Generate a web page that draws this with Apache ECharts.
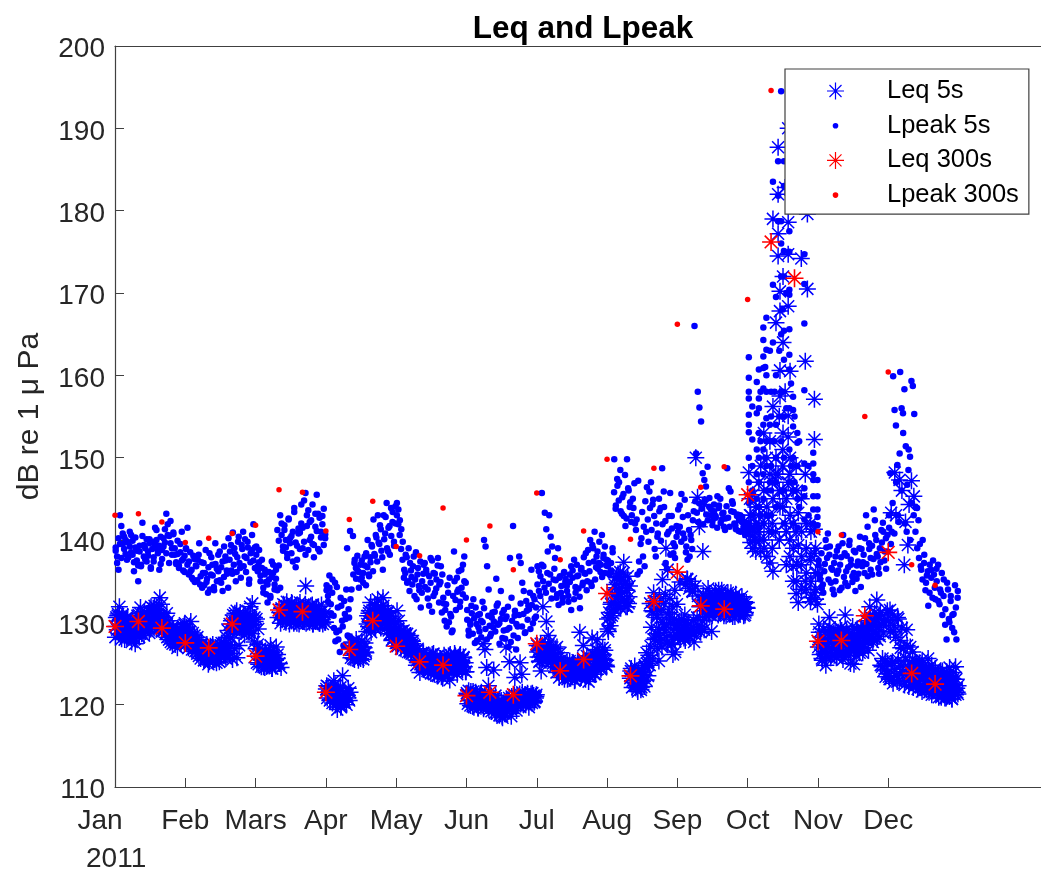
<!DOCTYPE html>
<html><head><meta charset="utf-8">
<style>html,body{margin:0;padding:0;background:#fff;overflow:hidden}#c{width:1041px;height:872px;filter:blur(0.4px)}</style>
<script src="https://cdn.jsdelivr.net/npm/echarts@6/dist/echarts.min.js"></script>
</head><body><div id="c"></div>
<script>
const monthLabels=['Jan','Feb','Mars','Apr','May','Jun','Jul','Aug','Sep','Oct','Nov','Dec'];
const monthStarts=[0,30,60,90,120,150,180,210,240,270,300,330];
const monthLen=30;
const yTicks={min:110,max:200,interval:10};
const xMax=395.2;

// Leq 5s, read month by month
const leqJan=[129.5,130.8,131.9,128.6,129.2,127.9,130.5,128.4,128.9,127.6,128.2,127.4,129.8,130.9,131.8,129.3,128.4,129.9,130.6,128.7,131.9,130.3,132.0,129.2,131.4,133.0,132.2,130.4,129.1,131.1,130.2,128.6,129.4,127.8,128.7,126.9,128.3,127.4,128.9,129.7];
const leqFeb=[129.4,128.6,130.1,127.8,126.9,128.2,127.2,126.4,125.4,127.1,124.9,126.1,127.3,125.8,126.6,125.2,127.5,126.3,125.6,127.0,126.2,125.5,126.8,125.7,127.2,129.2,131.0,130.2,129.5,131.9,132.3,130.6];
const leqMar=[130.4,129.2,126.8,125.4,124.6,126.2,124.8,125.7,127.2,124.4,125.9,124.7,126.1,125.0,124.5,131.2,132.1,130.4,131.6,130.2,132.4,130.8,131.5,129.9,132.0,130.6,131.3,130.1,134.4,131.7,130.5,132.0,129.8,131.4,130.3,131.0,129.9,132.1,130.7,130.0];
const leqApr=[122.3,121.2,120.6,121.8,122.9,120.2,119.4,120.9,119.7,123.5,120.4,121.2,120.8,126.8,127.5,125.6,126.2,127.1,125.4,126.5,127.7,125.9,126.4,129.8,131.1,132.4,130.2,129.4,131.6,132.8,130.5,131.9,133.0,130.9,129.7,131.2,128.6,127.8,129.0,130.1];
const leqMay=[131.4,130.2,128.9,127.8,128.6,126.7,127.9,128.2,126.5,127.4,126.0,124.8,125.9,123.9,125.2,126.3,124.5,125.6,124.0,125.3,126.1,124.7,125.8,123.6,124.9,125.5,123.2,124.6,125.7,124.2,123.0,124.9,125.4,126.0,124.3,125.2,126.1,124.5,125.7,124.0];
const leqJun=[121.2,120.5,121.6,119.8,120.9,121.3,119.6,120.3,121.5,127.4,126.7,124.5,122.3,120.8,119.9,124.2,121.1,119.4,120.2,118.9,118.4,119.1,127.0,120.0,125.2,118.6,120.6,123.3,119.3,121.0,125.1,123.7,120.1,121.2,120.5,119.7,120.8,121.4,120.3,121.0];
const leqJul=[126.4,125.2,124.1,131.9,127.3,130.1,128.4,127.6,126.2,125.4,126.8,127.0,125.7,126.3,124.6,123.6,124.9,123.1,124.2,123.4,124.7,122.9,123.8,125.1,128.8,124.0,127.2,123.5,125.9,122.8,124.5,128.1,125.6,123.7,127.9,126.4,124.3,126.9,125.5,124.8];
const leqAug=[129.2,130.6,132.4,131.1,134.2,135.6,133.5,136.1,132.8,137.3,134.7,131.9,133.1,124.1,122.9,123.7,122.4,121.6,123.2,122.1,123.9,124.8,126.3,125.2,132.3,131.4,133.6,128.1,130.9,125.3,127.8,135.2,129.4,139.0,136.4,131.2,127.5,126.1,133.9,129.7];
const leqSep=[129.6,134.9,128.6,130.2,127.8,135.3,128.4,129.1,133.8,127.6,150.0,145.2,141.6,129.3,138.6,144.3,132.4,134.1,130.9,128.9,131.8,133.3,132.6,133.9,131.3,132.9,130.8,131.7,133.0,131.2,133.6,130.7,132.1,131.5,132.8,131.0,132.3,131.6,130.9,131.8];
const leqNov=[129.8,127.3,125.4,126.9,124.8,127.9,130.6,128.4,126.2,127.5,125.7,128.8,126.6,129.0,127.2,130.9,128.1,126.4,125.0,127.6,124.9,126.8,128.3,127.1,129.3,126.3,128.6,130.2,127.7,131.9,129.1,128.0,130.4,132.7,129.6,131.2,124.6,130.0,123.4,131.4];
const leqDec=[123.4,131.5,143.3,125.2,128.9,148.2,143,122.8,130.4,147.3,126.9,146,124,137,142.2,129.1,139.4,144.3,127,147.2,126.4,145.3,123.2,125.1,122.4,124.6,123.9,122.1,125.4,123.3,121.8,124.2,122.6,125.6,123.5,122.2,124.8,123.0,121.7,124.4,122.6,121.4,123.7,122.0,120.9,124.1,121.6,122.9,120.8,123.4,121.2,124.5,122.3,120.7,123.1,121.5,124.6,122.0,121.3];
// second reading of the dense Leq 5s clusters
const leqJanB=[128.2,130.6,129.1,131.0,128.6,130.2,129.5,128.0,130.9,129.2,128.4,130.4,129.8,128.1,130.7,129.0,128.5,129.9,128.3,130.1,128.7,129.6,128.0,130.3,128.8,130.8,129.3,128.2,131.1,129.7,128.6,130.5,129.1,131.2,128.9,130.6,129.4,131.0,129.8,131.4,129.6,131.3,130.0,131.7,129.3,130.9,129.9,131.5,130.4,129.2,131.2,129.7,130.7,128.9,130.2,129.1,130.6,128.6,129.8,128.2,129.4,127.9,129.0,127.6,128.7,127.4,129.2,128.1,127.3,128.9,127.7,129.3,128.2,127.5,129.0,128.4,127.8,129.5,128.6,129.9];
const leqFebB=[129.1,127.4,128.6,126.9,128.9,127.3,128.2,126.7,128.7,127.1,128.4,126.5,127.9,126.2,127.6,125.9,127.2,125.6,127.4,126.0,127.0,125.4,126.7,125.8,127.3,125.5,126.4,125.2,127.1,125.9,126.6,125.3,126.9,125.6,126.2,125.1,126.8,125.7,127.0,126.0,127.2,125.8,126.5,126.9,127.4,125.9,128.2,126.6,129.0,127.3,129.8,128.1,130.2,128.7,130.9,129.2,131.1,129.5,131.4,129.9,130.6,129.3,131.2,128.9,130.4,129.1,131.0,128.5,130.7,129.4,130.0,128.8,130.5,129.0,130.9,128.6,130.3,129.7,127.6,130.1];
const leqMarB=[126.8,125.1,127.3,124.9,126.2,125.5,124.6,126.6,125.0,126.0,124.5,126.3,125.2,124.8,125.9,124.7,126.5,125.3,124.4,125.7,126.1,124.9,125.4,127.0,125.6,130.6,125.0,131.2,129.9,131.7,130.3,132.2,130.8,131.4,130.0,132.5,130.6,131.9,129.8,131.2,130.4,132.3,130.9,129.9,131.6,130.2,132.0,130.7,131.3,129.8,132.4,130.5,131.1,130.1,131.8,130.3,132.2,129.9,131.5,130.6,131.9,130.0,131.2,130.4,132.1,129.8,131.4,130.7,130.1,131.6,130.3,131.9,129.9,130.8,130.2,131.3,129.8,130.6,131.0,130.0];
const leqAprB=[121.9,120.8,122.2,121.2,120.5,122.0,121.5,120.2,121.8,120.9,122.4,120.6,121.3,120.1,121.7,120.4,122.1,119.9,121.0,120.7,121.6,120.3,121.4,120.0,121.1,122.0,120.5,121.5,125.7,127.6,126.0,127.2,125.5,126.7,127.9,126.2,125.8,127.4,126.5,125.6,127.0,126.1,125.5,126.9,127.5,126.3,128.9,130.8,129.5,131.4,130.0,128.8,131.2,129.6,130.6,132.1,129.2,131.0,130.2,131.7,129.7,130.9,129.3,131.5,130.4,132.0,129.9,131.1,130.5,129.4,131.3,129.0,130.7,128.6,130.1,127.9,129.3,128.2,129.8,127.5];
const leqMayB=[128.8,127.1,129.2,127.6,128.3,126.8,128.9,127.3,129.0,126.6,128.1,127.5,128.6,126.4,127.9,126.9,128.4,126.2,127.7,126.7,127.2,125.8,126.5,125.4,126.8,125.1,126.1,124.9,125.7,124.6,126.3,124.3,125.5,124.8,126.0,124.1,125.2,124.5,125.9,123.8,125.0,124.4,126.2,123.7,125.4,124.2,125.8,123.5,124.9,124.0,125.6,123.4,125.1,124.6,126.0,123.8,124.7,125.3,123.6,125.9,124.3,126.1,124.8,123.9,125.5,124.1,126.2,124.9,125.2,123.7,125.7,124.4,126.0,124.7,125.4,124.2,125.8,124.6,125.1,124.0];
const leqJunB=[121.4,120.1,121.7,120.5,119.9,121.2,120.3,121.6,119.7,120.9,121.5,120.0,121.1,119.6,120.7,121.3,119.8,120.4,121.0,119.5,120.8,121.2,119.9,120.2,120.9,119.4,120.6,121.1,119.2,120.3,119.7,120.7,119.0,120.1,118.9,119.6,120.4,118.7,119.8,120.5,118.6,119.3,120.2,118.9,119.9,120.6,119.2,120.0,120.8,119.5,120.3,121.0,119.6,120.7,121.2,119.8,120.4,121.1,119.9,120.6,121.3,120.1,120.8,121.5,120.2,120.9,121.2,120.0,120.7,121.4,120.3,121.0,120.5,121.3,120.2,120.9,121.1,120.4,120.8,121.2];
const leqJulB=[127.2,125.8,126.6,125.3,127.4,126.1,125.5,126.9,125.9,127.0,125.4,126.4,125.7,127.3,126.2,125.2,126.7,125.6,125.0,126.3,124.6,125.8,123.9,125.1,124.4,123.3,124.9,125.4,123.6,124.2,125.0,123.1,124.7,123.8,125.2,123.4,124.0,125.3,123.2,124.5,123.7,125.1,124.1,123.0,124.8,123.5,125.4,123.9,124.3,125.0,123.3,124.6,123.8,125.5,124.2,123.1,124.9,123.6,125.2,124.4,123.4,125.6,124.0,126.2,124.7,123.7,125.3,126.7,124.3,125.9,124.8,126.4,125.1,124.5,126.1,125.6,124.9,126.6,125.4,124.6];
const leqAugB=[130.4,128.9,131.2,129.6,132.2,130.8,133.4,131.6,134.6,132.4,135.4,133.1,135.9,132.0,134.2,131.7,135.1,133.6,136.0,132.7,134.9,131.9,133.9,135.6,132.3,134.4,123.2,124.4,122.1,123.8,122.7,124.7,122.3,123.4,121.9,124.0,122.6,123.1,121.8,124.2,122.8,123.6,122.2,124.5,123.0,125.0,123.5,126.0,124.8,127.1,129.4,125.6,131.3,127.9,132.6,128.6,130.6,126.8,129.1,133.1,128.2,131.6,127.0,130.0,132.3,128.8,133.4,129.7,127.5,131.0,128.4,132.9,129.9,127.3,131.9,128.3,130.4,126.4,129.2,132.2];
const leqSepB=[128.4,130.0,129.2,127.9,130.4,128.7,129.6,128.1,130.9,134.6,128.9,135.2,129.8,134.1,128.3,135.0,129.4,133.7,130.3,128.6,134.4,129.0,130.6,133.2,129.5,131.9,128.8,132.7,130.2,133.3,129.1,131.4,133.0,130.7,132.2,131.0,133.5,131.6,132.5,130.8,133.1,131.3,132.0,133.8,131.5,132.8,130.9,133.4,131.2,132.4,133.9,131.7,132.6,131.1,133.2,130.8,132.1,133.6,131.4,132.9,131.0,132.3,133.0,131.6,132.7,130.7,133.4,131.9,132.2,130.9,132.8,131.3,132.0,133.1,131.5,130.8,132.5,131.2,132.4,131.7];
const leqNovB=[127.0,128.8,126.1,128.2,125.6,127.6,129.2,126.5,128.0,125.9,127.3,128.9,126.3,129.4,125.7,127.9,126.8,128.5,126.0,129.0,127.4,125.8,128.3,126.6,127.8,129.3,126.2,128.7,125.5,127.2,128.1,126.4,129.1,127.5,125.9,128.6,126.7,128.0,127.1,129.5,126.5,128.4,127.7,126.0,129.2,127.0,128.8,126.3,127.5,129.0,126.9,128.2,127.3,129.6,127.8,130.2,128.5,126.6,129.3,130.7,128.1,130.0,127.6,129.7,131.1,128.9,130.4,127.9,129.4,130.9,128.3,124.8,129.8,125.6,128.7,124.2,125.3,130.3,123.8,125.0];
const leqDecB=[130.2,123.1,128.9,125.0,131.0,122.6,129.6,124.3,128.2,123.5,130.6,125.4,122.9,127.8,124.7,129.3,123.8,126.8,122.4,125.7,123.0,127.2,124.5,122.2,125.2,123.6,122.7,124.9,122.1,123.3,125.3,122.5,124.1,121.9,123.7,125.1,122.3,124.0,121.6,123.2,124.7,122.0,123.9,121.8,122.8,124.4,121.5,123.4,122.1,121.2,123.6,121.7,122.6,124.2,121.4,123.0,121.9,120.9,122.4,123.8,121.1,122.7,121.6,123.3,120.8,122.2,124.0,121.3,122.9,121.0,123.5,122.1,120.7,121.8,123.9,122.5,121.2,123.1,121.5,122.3];
// October is dense and uneven: [days after Oct 1, values at that time]
const leqOct=[[0.5,[148.2,142,141]],[1.3,[139.7,141.5,143]],[2.2,[140.5,139,145.5]],[3.5,[142,144,138.6]],[4.8,[147,141,143]],[5.6,[138.6,149]],[6.9,[153,146,140]],[8.2,[150,144,138]],[9.5,[148,137.2,152]],[10.8,[136.2,156.2,179,145]],[12.1,[166.4,150]],[13,[187.7,182,174.5,177.2,148]],[13.8,[167.8,170.2,160.6,157.5,144]],[15.1,[164,172,153,146]],[16,[182.8,158,142]],[17.3,[168.4,174.7,178.6,190,152.5,155.1,147]],[18.1,[160.5,150,143]],[19.4,[136.8,146]],[20.7,[149,133.5,141]],[21.6,[143.3,139.4,132.4]],[22.9,[145,174.2,137]],[24.6,[161.7,148,135]],[25.5,[170.5,179.6]],[26.8,[142,137.5,132.5]],[28.5,[157.1,152.2,141.3,138.4,133.6]],[29.8,[136,132.2]]];
const leqOctB=[[1,[145,143]],[3,[140,141]],[5,[144,140]],[7,[142,139]],[9,[141,143]],[10.5,[147,139,142]],[12,[148,141]],[13.5,[146,155,140]],[15,[151,144,149]],[16.5,[145,141,137]],[18,[148,140,138]],[19.5,[142,139,135]],[21,[137,135,146]],[23,[141,138,134]],[25,[139,136,134,142]],[27,[141,138,135,133]],[29,[134,136,139,132.8]]];

// Lpeak 5s
const peakJan=[138.7,137.2,136.4,143,141.7,139.5,140.4,138.3,139.8,137.9,139.2,140.6,138.2,136.2,139.1,137.5,135.0,138.6,136.8,142.1,139.4,137.6,140.1,138.1,139.6,136.5,138.9,137.4,141.5,140.0,138.4,139.3,137.1,138.8,140.2,139.7,143.2,141.9,140.5,142.3,139.0,140.7,138.2,137.3,139.9,136.9,138.5,141.0,137.7,136.1];
const peakFeb=[138.9,141.5,137.4,136.2,135.4,138.1,134.9,136.8,137.6,139.6,135.6,134.2,137.2,136.0,134.9,133.6,138.4,135.8,137.0,134.3,139.6,136.5,138.2,135.1,136.7,133.8,139.2,137.5,135.9,140.2,138.6,136.3,140.9,139.0,135.0,137.9,140.4,136.6,139.4,141.0,138.0,136.1,139.8,134.7,137.3,138.8,141.9,139.1];
const peakMar=[139.2,136.8,138.8,135.7,137.6,133.6,136.4,134.9,132.4,135.2,133.2,137.4,136.0,134.6,135.3,133.9,136.9,134.2,142.0,139.2,141.2,140.0,138.3,142.5,139.6,140.5,137.4,143.9,136.7,139.3,140.8,138.9,144.3,141.5,139.8,145.7,143.0,138.8,142.2,140.4,144.3,139.4,141.6,145.5,143.2,138.6,141.0,142.9,139.4,140.2];
const peakApr=[133.9,132.5,134.2,131.1,135.2,129.3,127.7,134.3,127.9,126.4,132,129.5,132.6,130.4,139,131.6,141.1,134.0,140.5,137.2,136.6,138.1,136.1,135.2,137.5,134.8,136.9,138.4,140.0,135.6,137.3,139.2,142.5,138.1,140.3,143,139.5,141.3,137.9,143,140.8,144.5,138.6,141.7,143.9,142.2,139.8,144.1];
const peakMay=[144.5,143.7,142.4,141.3,139.8,136.4,138.2,134.8,139,137.2,135.5,136.8,133.2,138.5,135.8,134.4,137.4,133.6,135.9,137.2,136.4,134,132,137.8,131.3,136,133.6,135.2,137.8,134.6,136.8,135.8,132.3,131.5,129.5,133.6,135.4,130.7,129,138.6,132.7,135.4,134,131.9,136.4,133.4,138,134.8];
const peakJun=[130.3,128.4,129.7,131.1,132.8,127.5,129.8,130.9,128.9,130.2,132.5,140,139.2,136.8,134,128.3,130.6,129.4,131.3,135.3,132.3,129.9,133.8,128.1,131.5,130.4,129.1,127,137.8,133,141.7,130.8,126.7,129.5,138,137.2,134.8,133.8,128.8,131.4,132,133.6,136.4,129.9,132.8,130.7];
const peakJul=[136.8,133.8,135.6,145.7,136.8,143.3,141.3,138.6,143,140.4,139.2,135.2,137.8,133,139,135.4,133.6,132.4,136,134.9,134.4,133.2,135.8,131.5,136.3,137.6,133.6,135.6,134.1,131.7,136.6,134.8,136,138.4,135,137.2,140,134.4,139,141,136.7,138.6,137.2,136.1,140.6,137.8,139.2,136.9];
const peakAug=[136.8,136,137.2,138.5,149.8,144.2,146.6,147,143.5,145.2,142.9,141.7,149.8,146,144.6,143,143.9,142,142.5,147.2,136.2,140.2,138,136.8,141,142.5,145.9,147,144.3,142.9,138,140.4,145,143.9,148.7,145.9,142.3,136.5,141,145.7,142.9,138.4,139.2,141.7];
const peakSep=[143.7,141.6,145.6,140.8,144.9,139.2,143,138,140,142.4,166,150.5,158,156.1,154.4,148.1,147.3,146.5,148.9,144,143,142.3,143.5,142.7,145.3,144.2,142.1,143.2,141.6,142.6,148.7,146.3,145.9,144.7,143.4,141.8,142.9,141.1,143,142.2,141.5,140.6,142.1];
const peakNov=[136.9,135.2,134.1,133.6,137.1,139.1,140.8,138.2,134.8,136.4,133.4,138,135.9,139.2,137,134.2,140.6,138.4,136.2,134.4,139.4,137.6,135.6,138.7,133.8,136.9,135.9,140.4,138.9,137.3,136,143,141.6,139.6,137.8,135.8,143.7,140.6,138.3,136.6,139,141.2,142.1,137.5,140.2,138.6];
const peakDec=[143,148.1,141,159.9,155.8,153.9,149.1,142.2,160.4,156,155.4,158.3,151.4,146.7,151,150.1,159.3,158.7,155.3,144,143.9,142.4,139.5,136.4,140,137.2,133.9,135.7,132,137,136.4,133,135.8,132.8,135,137,132.2,133.6,130.9,135.2,129.7,127.9,134,130,133.2,129.3,131,134.5,127.9,133.8];
const peakJanB=[139.1,138.0,140.2,139.5,137.8,140.8,138.9,140.0,137.6,139.7,141.0,138.5,139.9,137.3,140.3,138.7,136.9,139.3,137.0,140.5,138.0,139.0,137.4,138.6,140.1,136.7,139.8,137.9,139.4,141.2,138.8,136.4,140.4,137.7,139.2,141.3,138.4,140.6,137.2,139.6,138.2,140.9,139.0,137.1,138.3,136.6,139.5,137.5,136.3,138.1];
const peakFebB=[139.0,137.0,135.8,138.5,136.4,135.2,137.7,136.9,135.1,138.2,134.6,137.3,136.0,134.5,138.8,135.3,136.7,134.0,137.9,135.7,133.9,137.1,135.0,136.2,138.6,134.8,137.4,135.5,138.0,136.3,134.2,137.6,139.4,135.9,137.0,138.3,136.1,139.8,137.2,135.4,138.9,136.8,140.1,137.8,139.1,135.2,138.4,140.6,137.5,136.6];
const peakMarB=[138.2,136.2,137.3,135.0,136.6,134.2,135.8,133.4,134.6,136.1,133.0,135.5,137.0,134.0,136.4,141.2,139.9,143.0,140.6,138.7,141.8,139.1,137.8,142.6,140.2,138.4,141.0,143.4,139.7,137.6,141.4,140.9,142.0,139.0,144.8,138.2,141.7,143.6,140.0,142.4,139.5,137.9,143.2,141.1,138.9,142.7,140.3,141.9,143.8,140.7];
const peakAprB=[134.5,133.2,135.7,132.2,133.6,130.8,134.8,128.8,131.8,129.0,133.0,130.2,127.2,131.0,134.0,128.4,130.6,132.8,128.0,135.8,137.6,135.3,136.3,134.2,137.0,135.4,136.0,138.0,134.5,136.7,135.8,137.9,139.4,136.2,138.3,140.6,137.4,139.7,141.8,138.7,136.4,140.1,142.8,139.0,141.5,138.2,140.5,143.4,139.3,142.0];
const peakMayB=[143.0,141.9,140.6,138.9,137.6,135.4,136.0,137.9,135.0,133.8,136.3,134.6,138.0,135.2,132.8,136.6,133.9,131.8,135.0,137.0,134.3,136.0,132.9,135.6,134.8,137.5,133.2,135.9,134.1,136.9,132.4,134.9,131.2,133.0,130.2,132.2,134.5,130.0,131.0,128.8,133.2,135.0,131.5,133.7,136.2,132.5,134.2,137.0,135.0,133.0];
const peakJunB=[131.5,129.0,130.1,132.0,128.6,130.5,131.8,127.8,129.4,131.0,128.2,130.0,131.7,129.2,127.9,130.8,129.6,128.6,131.2,130.1,128.9,132.0,129.7,127.4,130.4,131.1,129.0,128.0,130.7,131.9,129.3,127.6,130.2,128.4,131.4,129.8,128.1,130.9,132.3,129.5,131.0,128.7,132.6,130.3,131.6,129.2,132.1,133.2,130.5,131.8];
const peakJulB=[134.6,136.2,133.2,137.0,135.0,134.2,133.6,136.0,134.7,135.8,132.9,134.0,136.5,135.1,133.4,132.1,135.6,134.4,133.0,136.1,135.3,133.8,132.5,134.9,136.8,135.4,132.8,134.3,137.0,135.7,133.1,136.4,134.5,137.9,135.9,133.9,138.8,136.2,134.8,139.4,137.4,135.2,138.0,136.5,139.8,137.0,135.5,138.2,136.0,137.6];
const peakAugB=[137.5,135.8,136.3,139.0,145.8,143.8,147.4,144.8,148.5,143.2,145.6,147.9,142.6,146.3,144.0,142.2,145.0,146.9,141.2,135.8,137.4,139.5,143.4,141.6,144.7,146.4,139.8,143.9,141.2,144.9,138.9,142.0,140.8,143.5,139.9,141.9,144.0,137.2,140.7,142.9,138.2,141.4,139.6,137.8,140.4];
const peakSepB=[141.0,144.2,139.8,142.8,140.2,138.5,137.6,141.2,140.6,138.9,143.5,144.7,143.3,142.2,144.4,143.8,141.9,144.9,143.1,142.4,145.1,143.7,141.8,144.3,142.9,141.5,143.9,145,142.5,143.3,141.2,144.1,142.7,141.6,143.5,144.4,142.0,141.3,143.1,142.4,141.0,142.8,141.7,140.8,141.4];
const peakNovB=[137.5,135.8,138.4,134.6,136.2,140.0,137.8,135.2,139.2,136.6,134.0,137.2,135.0,138.7,136.3,133.9,137.9,139.6,135.5,134.8,138.1,136.7,139.9,137.0,134.9,136.0,138.5,135.3,137.4,139.0,134.3,136.8,138.2,140.2,137.1,135.6,138.9,136.4,139.3,137.7,142.4,140.0,138.0,135.9,137.3,139.7,141.0,138.6,136.5,140.6];
const peakDecB=[141.5,139.5,144.5,140.8,147,143,150.5,146,153,142,141,148.5,140,144.5,143,141,139,137.8,136.8,135.2,138.2,134.8,136.2,133.6,135.4,137.5,134.2,136.5,132.6,134,136,133.2,131.6,134.8,130.4,132.6,130.9,128.8,131.8,133.0];
const peakOct=[[0.5,[162.2,159.7,158,157.2,155.2,154,153.1,150,147,144.5,142,141]],[2,[156.2,152.2,149,146,143,141.5]],[3.9,[159.2,155.4,151,148,145,142]],[4.8,[160.7,157.2,156,153,150,147,144,141.5]],[6.7,[164.3,165.8,162.3,160.9,158.4,154,151,148,145,142]],[8,[167,163.1,160,158,154.8,152,149,146,143]],[10,[158,155,152,149,146,143,141]],[10.8,[183.5,171,164]],[12.1,[169.5,160,154,150,147,144]],[13,[186,181.8,178.7]],[14.3,[194.5,172,178.7,176,165,158,152]],[15.5,[183,186,175.1,172,165.4,161.9,155,150,146,142]],[17.8,[177.5,170.4,175,169.8,162.5,165.6,160.7,156,151,147]],[19.4,[157.4,155.8,153.8,150,146,142]],[21.2,[153,151.8,149,145,141.5]],[24.2,[174.7,171.1,166.3,158.2,149.3,146.3,145.3,142.5]],[28,[150.6,149.3,148,147.3,145.3,143.7,142]],[29.8,[147.3,145.3,143.7,142.8,141.8]]];
const peakOctB=[[5.5,[158,152,143]],[7.5,[161,150]],[9.5,[163,154,147]],[11.5,[158,152]],[13.5,[163,155]],[15,[168,158]],[16.5,[170,156]],[18.5,[159,149]],[20,[155,147]],[22,[152,144]],[26,[149,143]]];

// 300 s series: one value every ten days
const days300=[0,10,20,30,40,50,60,70,80,90,100,110,120,130,140,150,160,170,180,190,200,210,220,230,240,250,260,270,280,290,300,310,320,330,340,350];
const leq300=[129.5,130.1,129.3,127.5,126.9,129.8,125.9,131.5,131.3,121.5,126.7,130.2,127.1,125.2,124.8,121.1,121.5,121.2,127.4,124.1,125.5,133.5,123.5,132.5,136.1,132,131.6,145.5,176.2,171.8,127.7,127.8,130.8,138.5,123.8,122.5];
const peak300=[143,143.2,142.2,139.7,140.2,140.8,141.8,146.1,145.8,141.1,142.5,144.7,139.2,138.1,143.9,140,141.7,136.4,145.7,137.6,141.1,149.8,140.1,148.7,166.2,146.4,148.9,169.2,194.6,188,141,140.6,155,160.4,137,134.5];

const seriesNames=['Leq 5s','Lpeak 5s','Leq 300s','Lpeak 300s'];

function even(monthValues){
  const out=[];
  monthValues.forEach(function(vals,m){
    vals.forEach(function(v,i){out.push([monthStarts[m]+(i+0.5)/vals.length*monthLen,v]);});
  });
  return out;
}
function grouped(m,groups){
  const out=[];
  groups.forEach(function(g){g[1].forEach(function(v){out.push([monthStarts[m]+g[0],v]);});});
  return out;
}
const none=[];
const leq5Data=[].concat(
  even([leqJanB,leqFebB,leqMarB,leqAprB,leqMayB,leqJunB,leqJulB,leqAugB,leqSepB,none,leqNovB,leqDecB]),
  even([leqJan,leqFeb,leqMar,leqApr,leqMay,leqJun,leqJul,leqAug,leqSep,none,leqNov,leqDec]),
  grouped(9,leqOctB),grouped(9,leqOct));
const peak5Data=[].concat(
  even([peakJanB,peakFebB,peakMarB,peakAprB,peakMayB,peakJunB,peakJulB,peakAugB,peakSepB,none,peakNovB,peakDecB]),
  even([peakJan,peakFeb,peakMar,peakApr,peakMay,peakJun,peakJul,peakAug,peakSep,none,peakNov,peakDec]),
  grouped(9,peakOctB),grouped(9,peakOct));
const zip=function(a,b){return a.map(function(d,i){return [d,b[i]];});};

const star='path://M-0.75 -8.5H0.75V8.5H-0.75ZM-8.5 -0.75H8.5V0.75H-8.5ZM-5.47 -6.53L6.53 5.47L5.47 6.53L-6.53 -5.47ZM-5.47 6.53L-6.53 5.47L5.47 -6.53L6.53 -5.47Z';
const legendExtent='M0 0L0 0M95 17L95 17';
const starIcon='path://'+legendExtent+'M47.9 0H49.1V17H47.9ZM40 7.9H57V9.1H40ZM42.92 2.08L54.92 14.08L54.08 14.92L42.08 2.92ZM42.92 14.92L42.08 14.08L54.08 2.08L54.92 2.92Z';
const dotIcon='path://'+legendExtent+'M45.7 8.5A2.8 2.8 0 1 0 51.3 8.5A2.8 2.8 0 1 0 45.7 8.5Z';
const font='"Liberation Sans",Arial,sans-serif';
const ink='#262626', axisInk='#404040';

function scatter(name,data,symbol,size,color,z){
  return {name:name,type:'scatter',data:data,symbol:symbol,symbolSize:size,symbolKeepAspect:true,clip:false,z:z,
    itemStyle:{color:color,borderWidth:0,opacity:1},emphasis:{disabled:true},silent:true};
}
const chart=echarts.init(document.getElementById('c'),null,{renderer:'canvas'});
chart.setOption({
  animation:false,backgroundColor:'#fff',
  title:{text:'Leq and Lpeak',left:578,textAlign:'center',top:8,textStyle:{fontFamily:font,fontSize:31.5,fontWeight:'bold',color:'#000'}},
  grid:{left:115,right:0,top:46,bottom:85,show:false},
  legend:{left:785,top:69,orient:'vertical',selectedMode:false,padding:[7,10,4,2],itemGap:4.7,itemWidth:95,itemHeight:17,
    backgroundColor:'#fff',borderColor:axisInk,borderWidth:1.2,z:10,
    textStyle:{fontFamily:font,fontSize:25.5,color:'#000',lineHeight:22,padding:[8,0,0,0]},
    data:[{name:seriesNames[0],icon:starIcon},{name:seriesNames[1],icon:dotIcon},{name:seriesNames[2],icon:starIcon},{name:seriesNames[3],icon:dotIcon}]},
  xAxis:[{type:'value',min:0,max:xMax,splitLine:{show:false},
    axisLine:{onZero:false,lineStyle:{color:axisInk,width:1.2}},
    axisTick:{inside:true,length:9,customValues:monthStarts,lineStyle:{color:axisInk,width:1}},
    axisLabel:{customValues:monthStarts,margin:20,fontFamily:font,fontSize:28,color:ink,
      formatter:function(v){const l=monthLabels[monthStarts.indexOf(v)];return v===0?'{j|'+l+'}':l;},
      rich:{j:{fontFamily:font,fontSize:28,color:ink,padding:[0,30,0,0]}}}},
    {type:'value',position:'top',min:0,max:xMax,splitLine:{show:false},axisLine:{onZero:false,lineStyle:{color:axisInk,width:1.2}},axisTick:{show:false},axisLabel:{show:false}}],
  yAxis:{type:'value',min:yTicks.min,max:yTicks.max,interval:yTicks.interval,splitLine:{show:false},
    name:'dB re 1 \u03bc Pa',nameLocation:'middle',nameGap:70,nameTextStyle:{fontFamily:font,fontSize:30,color:ink},
    axisLine:{lineStyle:{color:axisInk,width:1.2}},
    axisTick:{inside:true,length:9,lineStyle:{color:axisInk,width:1}},
    axisLabel:{margin:10,fontFamily:font,fontSize:28,color:ink,
      formatter:function(v){return '{t|'+v+'}';},
      rich:{t:{fontFamily:font,fontSize:28,color:ink,padding:[7,0,0,0]}}}},
  graphic:[{type:'text',left:86,top:845,style:{text:'2011',fontFamily:font,fontSize:28,fill:ink}}],
  series:[
    scatter(seriesNames[0],leq5Data,star,17,'#0000ff',2),
    scatter(seriesNames[1],peak5Data,'circle',6.5,'#0000ff',3),
    scatter(seriesNames[2],zip(days300,leq300),star,18,'#ff0000',4),
    scatter(seriesNames[3],zip(days300,peak300),'circle',5.5,'#ff0000',5)
  ]
});
</script></body></html>
